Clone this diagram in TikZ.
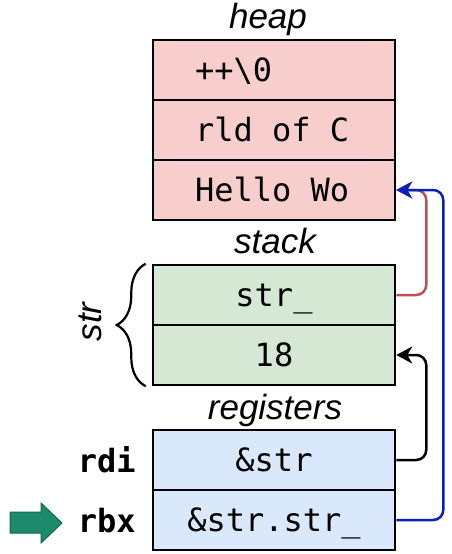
\documentclass[tikz,border=0pt]{standalone}
\usepackage{fontspec}
\setmainfont{Liberation Sans}
\setmonofont{DejaVu Sans Mono}
\usetikzlibrary{arrows.meta,decorations.pathreplacing,calc}
\definecolor{heapfill}{HTML}{F8CECC}
\definecolor{stackfill}{HTML}{D5E8D4}
\definecolor{regfill}{HTML}{DAE8FC}
\definecolor{redline}{HTML}{B85450}
\definecolor{blueline}{HTML}{0A1FC0}
\definecolor{arrowfill}{HTML}{1D8A6C}
\definecolor{arrowdraw}{HTML}{13664F}
\newcommand\monosp{\hspace*{0.602em}}
\begin{document}
\begin{tikzpicture}[x=1pt,y=-1pt,
  cell/.style={draw=black, line width=2.5pt, minimum width=242pt, minimum height=60pt,
    inner sep=0pt, font=\fontsize{32}{38}\selectfont\ttfamily, text height=23pt, text depth=0pt},
  heapc/.style={cell, fill=heapfill, text width=158pt, align=left},
  stackc/.style={cell, fill=stackfill},
  regc/.style={cell, fill=regfill},
  lab/.style={font=\fontsize{35}{42}\selectfont\itshape, inner sep=0pt},
  regl/.style={font=\fontsize{32}{38}\selectfont\ttfamily\bfseries, inner sep=0pt},
  conn/.style={line width=2.5pt, rounded corners=10pt, -{Stealth[length=16pt,width=17pt,inset=5pt]}}
]
\useasboundingbox[fill=white] (0,0) rectangle (452,554);

\node[heapc] (h1) at (274,70) {++\textbackslash0};
\node[heapc] (h2) at (274,130) {rld\monosp of\monosp C};
\node[heapc] (h3) at (274,190) {Hello\monosp Wo};

\node[stackc] (s1) at (274,295) {str\_};
\node[stackc] (s2) at (274,355) {18};

\node[regc] (r1) at (274,460) {\&str};
\node[regc] (r2) at (274,520) {\&str.str\_};

\node[lab, anchor=base] (lheap) at (268,28) {heap};
\node[lab, anchor=base] (lstack) at (275,253) {stack};
\node[lab, anchor=base] (lreg) at (275,419) {registers};
\node[lab, rotate=90] (lstr) at (90,322) {str};

\node[regl, anchor=base east] (lrdi) at ($(r1.west)+(-16,12)$) {rdi};
\node[regl, anchor=base east] (lrbx) at ($(r2.west)+(-16,12)$) {rbx};

\draw[line width=2.2pt, decorate, decoration={brace, amplitude=29pt}]
  ([xshift=-6pt]s2.south west) -- ([xshift=-6pt]s1.north west);

\draw[fill=arrowfill, draw=arrowdraw, line width=1pt]
  (10,512) -- (41,512) -- (41,503) -- (62,523) -- (41,543) -- (41,533) -- (10,533) -- cycle;

\draw[conn, draw=redline] (s1.east) -- ++(30,0) |- (h3.east);
\draw[conn, draw=black] (r1.east) -- ++(30,0) |- (s2.east);
\draw[conn, draw=blueline] (r2.east) -- ++(47,0) |- (h3.east);
\end{tikzpicture}
\end{document}
